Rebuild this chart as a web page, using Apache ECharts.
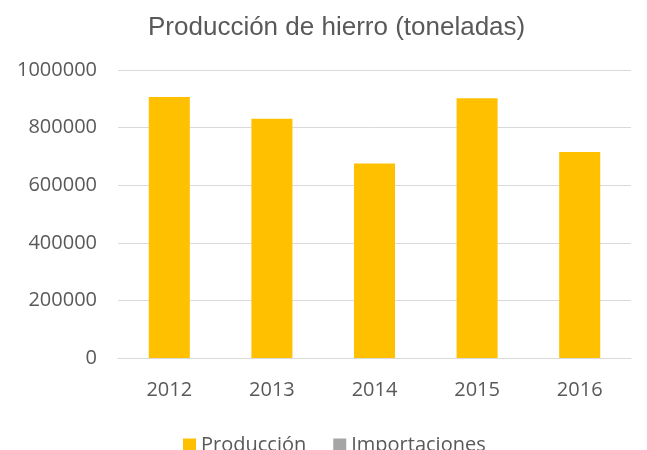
<!DOCTYPE html>
<html>
<head>
<meta charset="utf-8">
<script src="https://cdn.jsdelivr.net/npm/echarts@6/dist/echarts.min.js"></script>
<style>
  html, body { margin: 0; padding: 0; background: #fff; }
  #chart { width: 647px; height: 450px; }
</style>
</head>
<body>
<div id="chart"></div>
<script>
var years = ['2012', '2013', '2014', '2015', '2016']
var produccion = [906000, 831000, 675000, 902000, 715000]
var importaciones = []
var yTicks = { min: 0, max: 1000000, interval: 200000 }

var chart = echarts.init(document.getElementById('chart'))
chart.setOption({
  animation: false,
  title: {
    text: 'Producción de hierro (toneladas)',
    left: 143,
    top: 10,
    textStyle: {
      fontFamily: 'Liberation Sans',
      fontSize: 26,
      fontWeight: 'normal',
      color: '#595959'
    }
  },
  grid: {
    left: 118,
    right: 16,
    top: 70,
    bottom: 92
  },
  legend: {
    data: ['Producción', 'Importaciones'],
    bottom: -10,
    left: 178,
    itemWidth: 13,
    itemHeight: 13,
    itemGap: 27,
    icon: 'rect',
    textStyle: {
      fontFamily: 'Open Sans',
      fontSize: 20,
      color: '#595959'
    }
  },
  xAxis: {
    type: 'category',
    data: years,
    axisTick: { show: false },
    axisLine: { lineStyle: { color: '#d9d9d9', width: 1 } },
    axisLabel: {
      margin: 22,
      fontFamily: 'Open Sans',
      fontSize: 20,
      color: '#595959'
    }
  },
  yAxis: {
    type: 'value',
    min: yTicks.min,
    max: yTicks.max,
    interval: yTicks.interval,
    axisLine: { show: false },
    axisTick: { show: false },
    splitLine: { lineStyle: { color: '#d9d9d9', width: 1 } },
    axisLabel: {
      margin: 21,
      fontFamily: 'Open Sans',
      fontSize: 20,
      color: '#595959',
      formatter: function (v) { return String(v) }
    }
  },
  series: [
    {
      name: 'Producción',
      type: 'bar',
      stack: 'total',
      barWidth: '40%',
      data: produccion,
      itemStyle: { color: '#ffc000' }
    },
    {
      name: 'Importaciones',
      type: 'bar',
      stack: 'total',
      data: importaciones,
      itemStyle: { color: '#a5a5a5' }
    }
  ]
})
</script>
</body>
</html>
